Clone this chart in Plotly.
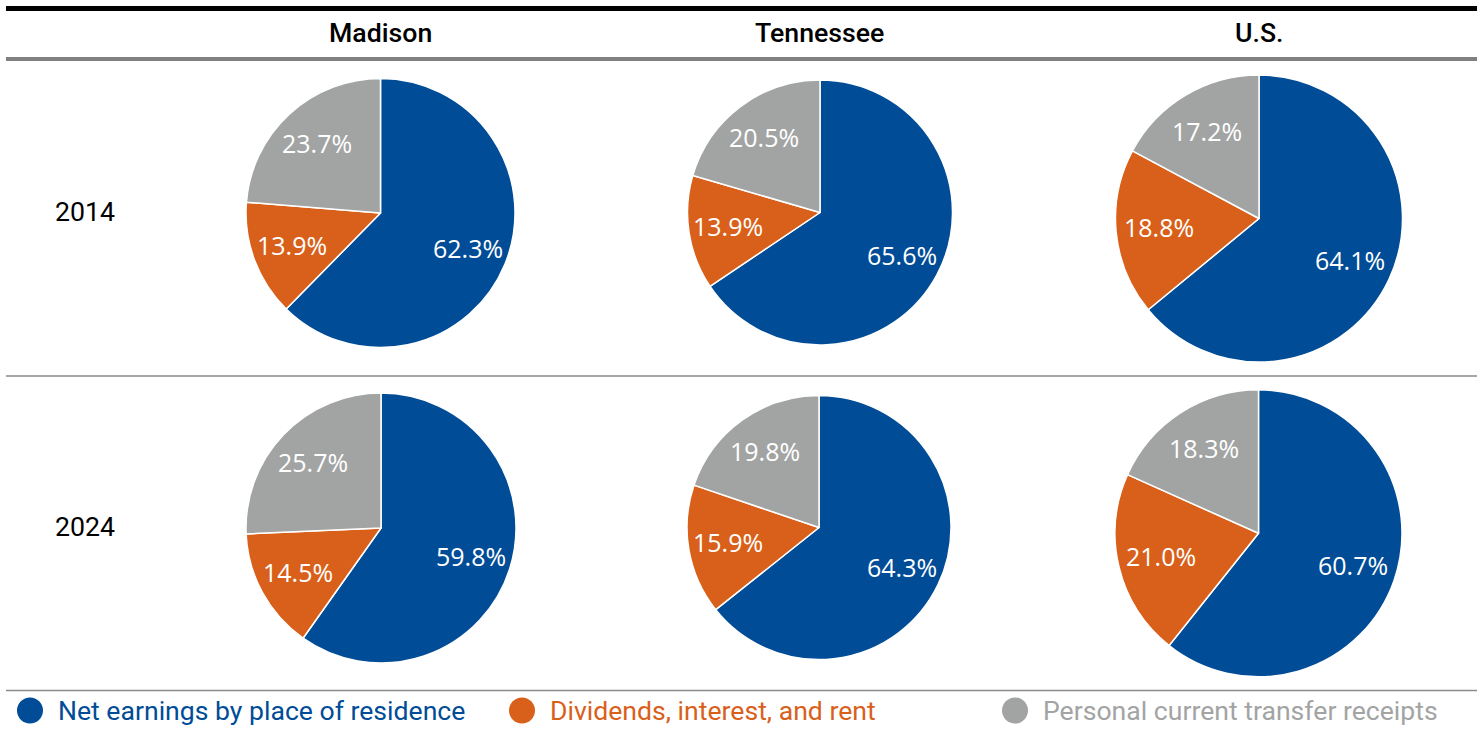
import math
import plotly.graph_objects as go

# ---------------- data ----------------
categories = ["Net earnings by place of residence",
              "Dividends, interest, and rent",
              "Personal current transfer receipts"]
regions = ["Madison", "Tennessee", "U.S."]
years = ["2014", "2024"]

madison_2014 = [62.3, 13.9, 23.7]
tennessee_2014 = [65.6, 13.9, 20.5]
us_2014 = [64.1, 18.8, 17.2]
madison_2024 = [59.8, 14.5, 25.7]
tennessee_2024 = [64.3, 15.9, 19.8]
us_2024 = [60.7, 21.0, 18.3]

colors = ["#004C97", "#D9601A", "#A2A4A4"]

# ---------------- layout geometry (pixels) ----------------
W, H = 1483, 732

# (values, center x, center y, radius) per panel
panels = [
    (madison_2014, 380.5, 213.0, 134.5),
    (tennessee_2014, 820.0, 212.5, 132.5),
    (us_2014, 1259.0, 218.5, 143.5),
    (madison_2024, 381.0, 528.0, 135.0),
    (tennessee_2024, 819.0, 527.5, 132.0),
    (us_2024, 1258.5, 533.3, 143.5),
]


def px(x):
    return x / W


def py(y):
    return 1 - y / H


fig = go.Figure()
annotations = []
LABEL_R = 0.70
for vals, cx, cy, r in panels:
    fig.add_trace(go.Pie(
        labels=categories,
        values=vals,
        sort=False,
        direction="clockwise",
        rotation=0,
        marker=dict(colors=colors, line=dict(color="white", width=1.5)),
        textinfo="none",
        hoverinfo="label+value",
        showlegend=False,
        domain=dict(x=[(cx - r) / W, (cx + r) / W],
                    y=[1 - (cy + r) / H, 1 - (cy - r) / H]),
    ))
    # slice labels placed along each slice's mid-angle
    total = sum(vals)
    cum = 0.0
    for v in vals:
        mid = (cum + v / 2) / total
        cum += v
        th = 2 * math.pi * mid
        lx = cx + LABEL_R * r * math.sin(th)
        ly = cy - LABEL_R * r * math.cos(th)
        annotations.append(dict(text=f"{v:.1f}%", x=px(lx), y=py(ly - 1),
                                xref="paper", yref="paper", showarrow=False,
                                xanchor="center", yanchor="middle",
                                font=dict(family="Open Sans", size=25, color="white")))

shapes = [
    dict(type="line", xref="paper", yref="paper", x0=px(6), x1=px(1477),
         y0=py(8.5), y1=py(8.5), line=dict(color="black", width=5)),
    dict(type="line", xref="paper", yref="paper", x0=px(6), x1=px(1477),
         y0=py(59), y1=py(59), line=dict(color="#808080", width=4)),
    dict(type="line", xref="paper", yref="paper", x0=px(6), x1=px(1477),
         y0=py(376), y1=py(376), line=dict(color="#A6A6A6", width=2)),
    dict(type="line", xref="paper", yref="paper", x0=px(6), x1=px(1477),
         y0=py(690.5), y1=py(690.5), line=dict(color="#8C8C8C", width=1.5)),
]

header_x = [380.5, 819.5, 1258.5]
for name, hx in zip(regions, header_x):
    annotations.append(dict(text=name, x=px(hx), y=py(33), xref="paper", yref="paper",
                            showarrow=False, xanchor="center", yanchor="middle",
                            font=dict(family="Roboto", size=26.7, color="black", weight=500)))
for yr, ry in zip(years, [212, 527]):
    annotations.append(dict(text=yr, x=px(53), y=py(ry), xref="paper", yref="paper",
                            showarrow=False, xanchor="left", yanchor="middle",
                            font=dict(family="Roboto", size=26.7, color="black", weight=400)))

# legend: circles + colored text
legend_circle_x = [30, 522, 1015]
legend_text_x = [56, 548, 1041]
for cat, col, lx, tx in zip(categories, colors, legend_circle_x, legend_text_x):
    shapes.append(dict(type="circle", xref="paper", yref="paper",
                       x0=px(lx - 13), x1=px(lx + 13), y0=py(710.5 + 13), y1=py(710.5 - 13),
                       fillcolor=col, line=dict(width=0)))
    annotations.append(dict(text=cat, x=px(tx), y=py(710), xref="paper", yref="paper",
                            showarrow=False, xanchor="left", yanchor="middle",
                            font=dict(family="Roboto", size=26.6, color=col)))

fig.update_layout(
    width=W, height=H,
    margin=dict(l=0, r=0, t=0, b=0),
    paper_bgcolor="white", plot_bgcolor="white",
    shapes=shapes, annotations=annotations,
)

fig.write_html("out.html")
